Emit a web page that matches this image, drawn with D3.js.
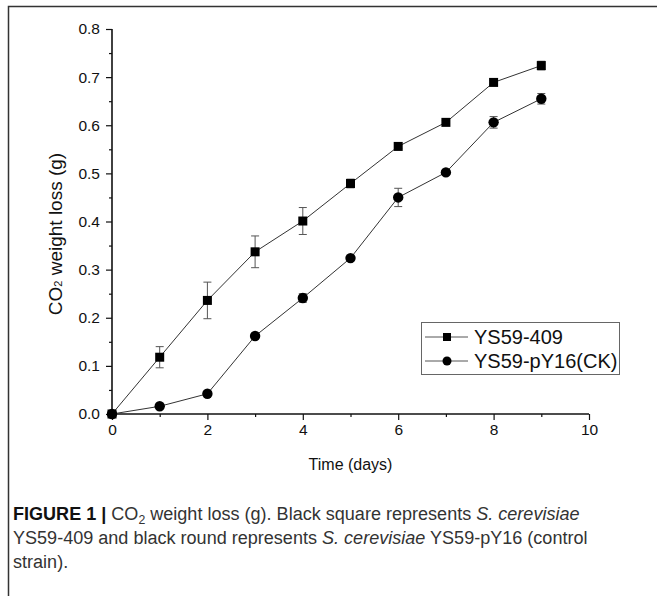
<!DOCTYPE html>
<html><head><meta charset="utf-8">
<script src="https://cdn.jsdelivr.net/npm/d3@7"></script>
<style>html,body{margin:0;padding:0;background:#fff;}svg{display:block;}</style>
</head><body>
<svg id="c" width="657" height="596"></svg>
<script>
const days = [0,1,2,3,4,5,6,7,8,9];
const s409 = [0,0.118,0.236,0.337,0.401,0.479,0.556,0.606,0.689,0.724];
const s409Err = [0,0.022,0.038,0.033,0.028,0.009,0.004,0.004,0.004,0.009];
const sCK = [0,0.016,0.042,0.162,0.241,0.324,0.450,0.502,0.606,0.655];
const sCKErr = [0,0.003,0.004,0.004,0.009,0.004,0.019,0.004,0.012,0.011];
const xTicks = [0,2,4,6,8,10];
const yTicks = [0,0.1,0.2,0.3,0.4,0.5,0.6,0.7,0.8];
const seriesNames = ["YS59-409","YS59-pY16(CK)"];

const svg = d3.select("#c");
const font = "'Liberation Sans', Arial, sans-serif";

// outer frame (open right/bottom)
svg.append("path").attr("d","M8.5,596 L8.5,6.5 L657,6.5").attr("fill","none").attr("stroke","#333").attr("stroke-width",1.5);

const x = d3.scaleLinear().domain([0,10]).range([112,589]);
const y = d3.scaleLinear().domain([0,0.8]).range([414,29]);

// y axis
const yAx = svg.append("g").attr("transform","translate(112,0)")
  .call(d3.axisLeft(y).tickValues(yTicks).tickFormat(d3.format(".1f")).tickSize(6).tickPadding(6));
const yMinor = d3.range(0.05,0.8,0.1);
svg.append("g").attr("transform","translate(112,0)")
  .call(d3.axisLeft(y).tickValues(yMinor).tickFormat("").tickSize(3))
  .select(".domain").remove();
// x axis
const xAx = svg.append("g").attr("transform","translate(0,414)")
  .call(d3.axisBottom(x).tickValues(xTicks).tickFormat(d3.format("d")).tickSize(6).tickPadding(4));
svg.append("g").attr("transform","translate(0,414)")
  .call(d3.axisBottom(x).tickValues([1,3,5,7,9]).tickFormat("").tickSize(3))
  .select(".domain").remove();

svg.selectAll(".domain").attr("stroke","#111").attr("stroke-width",1.6);
svg.selectAll(".tick line").attr("stroke","#111").attr("stroke-width",1.2);
svg.selectAll(".tick text").attr("font-family",font).attr("font-size",15.5).attr("fill","#111");
yAx.select(".domain").attr("d","M0,"+y(0.8)+"V"+y(0));
xAx.select(".domain").attr("d","M"+x(0)+",0H"+x(10));

// axis titles
svg.append("text").attr("x",x(5)).attr("y",470).attr("text-anchor","middle")
  .attr("font-family",font).attr("font-size",16).attr("fill","#111").text("Time (days)");
const yl = svg.append("text").attr("transform","translate(62,234) rotate(-90)")
  .attr("text-anchor","middle").attr("font-family",font).attr("font-size",19).attr("fill","#111");
yl.append("tspan").text("CO");
yl.append("tspan").attr("font-size",11).text("2");
yl.append("tspan").text(" weight loss (g)");

const plot = svg.append("g");
const series = [
  {vals:s409, err:s409Err, shape:"square"},
  {vals:sCK, err:sCKErr, shape:"circle"}
];
const line = d3.line().x((d,i)=>x(days[i])).y(d=>y(d));
series.forEach(s=>{
  plot.append("path").attr("d",line(s.vals)).attr("fill","none").attr("stroke","#333").attr("stroke-width",1);
});
series.forEach(s=>{
  const g = plot.append("g");
  s.vals.forEach((v,i)=>{
    const e = s.err[i];
    if(e>0){
      const cx = x(days[i]);
      g.append("path").attr("d",`M${cx},${y(v+e)}V${y(v-e)}M${cx-4},${y(v+e)}H${cx+4}M${cx-4},${y(v-e)}H${cx+4}`)
        .attr("stroke","#555").attr("stroke-width",1).attr("fill","none");
    }
  });
  s.vals.forEach((v,i)=>{
    const cx = x(days[i]), cy = y(v);
    if(s.shape==="square") g.append("rect").attr("x",cx-4.5).attr("y",cy-4.5).attr("width",9).attr("height",9).attr("fill","#000");
    else g.append("circle").attr("cx",cx).attr("cy",cy).attr("r",5.2).attr("fill","#000");
  });
});

// legend
const lg = svg.append("g");
lg.append("rect").attr("x",421.5).attr("y",322.5).attr("width",198).attr("height",52).attr("fill","#fff").attr("stroke","#666").attr("stroke-width",1);
seriesNames.forEach((n,i)=>{
  const ly = 337 + i*24;
  lg.append("line").attr("x1",425).attr("x2",468).attr("y1",ly).attr("y2",ly).attr("stroke","#555").attr("stroke-width",1);
  if(i===0) lg.append("rect").attr("x",443).attr("y",ly-4).attr("width",8).attr("height",8).attr("fill","#000");
  else lg.append("circle").attr("cx",447).attr("cy",ly).attr("r",4.5).attr("fill","#000");
  lg.append("text").attr("x",474).attr("y",ly+7).attr("font-family",font).attr("font-size",20).attr("fill","#111").text(n);
});

// caption
function capLine(yy, fs){
  return svg.append("text").attr("x",13).attr("y",yy).attr("font-family",font).attr("font-size",fs)
    .attr("fill","#333");
}
function fill1(t, fs){
  t.append("tspan").attr("font-weight","bold").attr("fill","#111").text("FIGURE 1 | ");
  t.append("tspan").text("CO");
  t.append("tspan").attr("font-size",fs*0.68).attr("dy",4).text("2");
  t.append("tspan").attr("dy",-4).text(" weight loss (g). Black square represents ");
  t.append("tspan").attr("font-style","italic").text("S. cerevisiae");
}
// measure to fit reference line width
const probe = capLine(-100, 18); fill1(probe, 18);
const w = probe.node().getComputedTextLength();
probe.remove();
const fs = Math.min(19, 18 * 567 / w);
const c1 = capLine(520, fs); fill1(c1, fs);
const c2 = capLine(544, fs);
c2.append("tspan").text("YS59-409 and black round represents ");
c2.append("tspan").attr("font-style","italic").text("S. cerevisiae");
c2.append("tspan").text(" YS59-pY16 (control");
const c3 = capLine(568, fs);
c3.text("strain).");
</script>
</body></html>
